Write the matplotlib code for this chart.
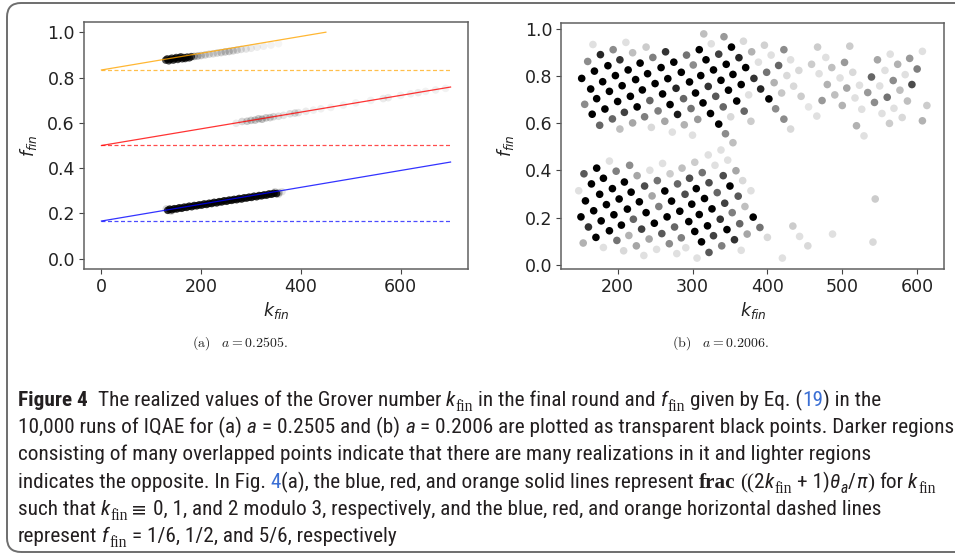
import matplotlib
matplotlib.use("Agg")
import matplotlib.pyplot as plt
from matplotlib import font_manager
from matplotlib.font_manager import FontProperties
from matplotlib.patches import FancyBboxPatch
from matplotlib.transforms import IdentityTransform

# ---- panel (a): reference lines ----
blue_line_k = [0, 700]
blue_line_f = [0.1667, 0.427]
red_line_k = [0, 700]
red_line_f = [0.5, 0.758]
orange_line_k = [0, 450]
orange_line_f = [0.8333, 1.0]
dash_k = [0, 700]
dash_levels = [1 / 6, 1 / 2, 5 / 6]

# ---- panel (a): realisations (k_fin, f_fin, opacity) ----
blue_k = [133, 137, 141, 146, 151, 156, 161, 166, 171, 176, 181, 186, 191, 196, 201,
          206, 211, 216, 221, 226, 231, 236, 241, 246, 251, 256, 261, 266, 271, 276,
          281, 286, 291, 296, 301, 306, 311, 316, 321, 326, 331, 336, 341, 346, 351,
          356, 362, 348, 130, 140, 355]
blue_f = [0.214, 0.219, 0.216, 0.221, 0.220, 0.225, 0.223, 0.228, 0.227, 0.232, 0.230,
          0.235, 0.234, 0.238, 0.237, 0.242, 0.240, 0.245, 0.244, 0.249, 0.247, 0.252,
          0.251, 0.256, 0.254, 0.259, 0.258, 0.262, 0.261, 0.266, 0.264, 0.269, 0.268,
          0.272, 0.271, 0.276, 0.274, 0.279, 0.278, 0.282, 0.281, 0.286, 0.285, 0.289,
          0.288, 0.292, 0.296, 0.296, 0.220, 0.210, 0.285]
blue_alpha = [0.8] * 45 + [0.2, 0.1, 0.15, 0.15, 0.15, 0.15]

orange_k = [129, 132, 135, 138, 141, 144, 147, 150, 153, 156, 159, 162, 165, 168, 172,
            176, 180, 186, 193, 200, 208, 216, 224, 232, 240, 248, 256, 264, 272, 280,
            290, 300, 312, 325, 340, 355]
orange_f = [0.877, 0.882, 0.874, 0.880, 0.885, 0.877, 0.883, 0.888, 0.880, 0.886, 0.891,
            0.883, 0.888, 0.884, 0.890, 0.887, 0.892, 0.893, 0.895, 0.897, 0.900, 0.903,
            0.905, 0.908, 0.910, 0.913, 0.915, 0.918, 0.921, 0.924, 0.926, 0.929, 0.934,
            0.938, 0.943, 0.949]
orange_alpha = [0.7] * 17 + [0.3, 0.25, 0.2, 0.18, 0.15, 0.15, 0.15, 0.18, 0.2, 0.2,
                             0.18, 0.15, 0.12, 0.1, 0.08, 0.07, 0.06, 0.05, 0.04]

red_k = [270, 282, 292, 300, 308, 315, 322, 330, 338, 345, 355, 365, 378, 388, 395, 410,
         425, 440, 460, 485, 510, 540, 565, 575, 600, 620, 635, 650, 670, 690]
red_f = [0.598, 0.606, 0.607, 0.611, 0.612, 0.618, 0.616, 0.622, 0.623, 0.627, 0.629,
         0.633, 0.640, 0.643, 0.645, 0.651, 0.656, 0.662, 0.668, 0.678, 0.688, 0.699,
         0.707, 0.711, 0.721, 0.728, 0.733, 0.739, 0.745, 0.752]
red_alpha = [0.08, 0.15, 0.2, 0.2, 0.22, 0.2, 0.25, 0.2, 0.18, 0.15, 0.12, 0.1, 0.12,
             0.15, 0.1, 0.08, 0.06, 0.06, 0.05, 0.05, 0.05, 0.05, 0.08, 0.08, 0.05, 0.06,
             0.07, 0.05, 0.06, 0.05]

# ---- panel (b): realisations (k_fin, f_fin, opacity) ----
b_k = [167, 211, 194, 238, 264, 292, 177, 220, 203, 247, 160, 187, 230, 275, 169, 214,
       258, 285, 197, 240, 152, 180, 224, 267, 206, 250, 164, 189, 233, 278, 217, 260,
       172, 200, 243, 288, 156, 183, 226, 270, 166, 209, 254, 280, 193, 236, 176, 220,
       263, 203, 245, 289, 273,
       315, 342, 325, 368, 309, 352, 396, 379, 422, 335, 362, 405, 318, 388, 431, 459,
       301, 345, 415, 328, 371, 399, 442, 311, 354, 426, 296, 338, 382, 409, 365, 321,
       304, 348, 391, 419, 331, 375, 445, 359, 402, 314, 298, 341, 411, 369, 455, 324,
       307, 351, 378, 422, 335, 431, 300, 344, 354, 435,
       510, 467, 607, 564, 478, 547, 590, 503, 574, 486, 600, 557, 514, 469, 539, 584,
       497, 568, 593, 480, 550, 523, 506, 577, 534, 490, 517, 560, 473, 543, 587, 500,
       613, 526, 569, 553, 466, 580, 519, 563, 607, 529,
       189, 216, 172, 155, 198, 243, 260, 226, 270, 286, 181, 209, 253, 280, 236, 165,
       148, 193, 263, 176, 218, 246, 290, 157, 202, 229, 272, 185, 255, 168, 213, 283,
       238, 195, 151, 221, 266, 178, 249, 205, 161, 232, 276, 189, 171, 215, 259, 199,
       242, 285, 154, 225, 269, 181, 208, 252, 235, 279, 291,
       338, 321, 347, 303, 330, 358, 313, 341, 296, 367, 322, 350, 305, 378, 333, 361,
       316, 299, 343, 370, 326, 353, 309, 381, 337, 295, 363, 320, 346, 390, 303, 328,
       373, 400, 356, 312, 339, 365, 322, 306, 434, 443, 454, 420, 487, 544, 541]
b_f = [0.935, 0.944, 0.913, 0.924, 0.904, 0.890, 0.892, 0.900, 0.870, 0.880, 0.863,
       0.845, 0.856, 0.860, 0.822, 0.827, 0.837, 0.817, 0.803, 0.811, 0.791, 0.777,
       0.786, 0.790, 0.760, 0.769, 0.746, 0.736, 0.742, 0.749, 0.715, 0.725, 0.705,
       0.693, 0.697, 0.705, 0.681, 0.661, 0.670, 0.680, 0.639, 0.647, 0.653, 0.638,
       0.619, 0.628, 0.592, 0.602, 0.609, 0.576, 0.583, 0.594, 0.563,
       0.980, 0.968, 0.938, 0.949, 0.913, 0.924, 0.932, 0.904, 0.913, 0.894, 0.879,
       0.890, 0.870, 0.860, 0.870, 0.851, 0.848, 0.851, 0.846, 0.827, 0.837, 0.817,
       0.825, 0.803, 0.808, 0.803, 0.776, 0.783, 0.791, 0.773, 0.765, 0.757, 0.729,
       0.741, 0.746, 0.729, 0.715, 0.721, 0.715, 0.695, 0.704, 0.687, 0.663, 0.670,
       0.662, 0.652, 0.670, 0.642, 0.617, 0.628, 0.609, 0.618, 0.597, 0.576, 0.550,
       0.556, 0.518, 0.758,
       0.928, 0.924, 0.906, 0.894, 0.880, 0.870, 0.876, 0.859, 0.851, 0.837, 0.831,
       0.825, 0.817, 0.811, 0.797, 0.807, 0.793, 0.782, 0.765, 0.765, 0.759, 0.762,
       0.750, 0.741, 0.731, 0.721, 0.708, 0.711, 0.697, 0.689, 0.695, 0.676, 0.676,
       0.660, 0.664, 0.642, 0.631, 0.625, 0.590, 0.600, 0.611, 0.547,
       0.440, 0.422, 0.410, 0.386, 0.397, 0.401, 0.430, 0.378, 0.386, 0.410, 0.367,
       0.351, 0.357, 0.343, 0.334, 0.343, 0.314, 0.323, 0.313, 0.299, 0.308, 0.292,
       0.299, 0.271, 0.279, 0.267, 0.270, 0.255, 0.247, 0.229, 0.236, 0.227, 0.221,
       0.212, 0.203, 0.193, 0.203, 0.186, 0.176, 0.168, 0.160, 0.151, 0.160, 0.144,
       0.116, 0.124, 0.132, 0.103, 0.109, 0.114, 0.092, 0.080, 0.089, 0.073, 0.059,
       0.065, 0.039, 0.047, 0.072,
       0.487, 0.466, 0.444, 0.435, 0.422, 0.399, 0.391, 0.378, 0.367, 0.357, 0.348,
       0.334, 0.323, 0.314, 0.306, 0.291, 0.281, 0.257, 0.261, 0.247, 0.237, 0.221,
       0.213, 0.202, 0.193, 0.183, 0.174, 0.165, 0.149, 0.158, 0.141, 0.123, 0.130,
       0.116, 0.106, 0.097, 0.080, 0.061, 0.052, 0.028, 0.164, 0.120, 0.080, 0.028,
       0.130, 0.279, 0.096]
b_alpha = [0.12, 0.12, 0.45, 0.2, 0.8, 0.55, 0.85, 0.25, 0.8, 0.5, 0.45, 1, 1, 1, 1, 1,
           1, 1, 1, 1, 1, 1, 1, 1, 1, 1, 1, 1, 1, 0.85, 1, 1, 1, 1, 0.6, 0.6, 0.45, 1, 1,
           1, 1, 0.75, 0.5, 0.9, 0.6, 0.5, 0.6, 0.35, 0.35, 0.25, 0.15, 0.3, 0.12,
           0.25, 0.4, 0.12, 0.15, 1, 1, 0.18, 0.3, 0.45, 0.75, 0.85, 0.12, 1, 0.12, 0.12,
           0.2, 0.45, 1, 0.6, 1, 1, 0.55, 0.15, 1, 1, 0.15, 1, 1, 0.8, 0.3, 1, 0.8, 1, 1,
           0.85, 0.22, 0.65, 0.12, 0.2, 1, 1, 1, 0.55, 0.6, 0.45, 0.6, 0.1, 1, 0.4, 0.15,
           0.2, 0.45, 1, 0.15, 0.12, 0.45, 0.25, 0.15,
           0.2, 0.2, 0.12, 0.12, 0.12, 0.35, 0.4, 0.4, 0.3, 0.25, 0.5, 0.12, 0.15, 0.12,
           0.6, 0.12, 0.12, 0.45, 0.7, 0.3, 0.12, 0.12, 0.35, 0.25, 0.4, 0.25, 0.12, 0.55,
           0.4, 0.45, 0.25, 0.3, 0.2, 0.12, 0.12, 0.12, 0.12, 0.15, 0.3, 0.2, 0.3, 0.12,
           0.12, 0.45, 1, 0.65, 0.5, 0.12, 0.12, 0.35, 0.2, 0.25, 1, 1, 0.55, 0.6, 0.7, 1,
           0.12, 1, 1, 1, 1, 0.35, 0.7, 1, 1, 1, 1, 1, 0.5, 1, 1, 1, 1, 1, 1, 0.6, 1, 1,
           1, 1, 0.8, 0.75, 0.6, 1, 1, 0.3, 0.65, 0.55, 0.35, 0.5, 0.3, 0.35, 0.45, 0.12,
           0.15, 0.12, 0.12, 0.12, 0.12,
           0.12, 0.12, 0.12, 0.2, 0.12, 0.35, 0.55, 0.7, 0.7, 0.15, 0.7, 1, 1, 0.12, 0.6,
           0.65, 1, 1, 0.75, 0.25, 1, 0.5, 1, 1, 0.8, 1, 0.6, 1, 1, 0.55, 1, 0.75, 0.35,
           0.15, 0.8, 1, 0.5, 0.12, 0.65, 0.12, 0.2, 0.12, 0.15, 0.12, 0.12, 0.2, 0.15]

x_ticks_a = [0, 200, 400, 600]
x_ticks_b = [200, 300, 400, 500, 600]
y_ticks = [0.0, 0.2, 0.4, 0.6, 0.8, 1.0]

sub_a = r"$\mathrm{(a)}\quad a = 0.2505.$"
sub_b = r"$\mathrm{(b)}\quad a = 0.2006.$"

# caption pieces: (text, style); styles pick font/colour/offset below
caption = [
    [("Figure 4", "bold"), ("  The realized values of the Grover number ", "normal"),
     ("k", "it"), ("fin", "sub"), (" in the final round and ", "normal"), ("f", "it"),
     ("fin", "sub"), (" given by Eq. (", "normal"), ("19", "link"), (") in the", "normal")],
    [("10,000 runs of IQAE for (a) ", "normal"), ("a", "it"), (" = 0.2505 and (b) ", "normal"),
     ("a", "it"), (" = 0.2006 are plotted as transparent black points. Darker regions", "normal")],
    [("consisting of many overlapped points indicate that there are many realizations "
      "in it and lighter regions", "normal")],
    [("indicates the opposite. In Fig. ", "normal"), ("4", "link"),
     ("(a), the blue, red, and orange solid lines represent ", "normal"), ("frac", "bfserif"),
     (" ((", "serif"), ("2", "normal"), ("k", "it"), ("fin", "sub"), (" + 1)", "normal"),
     ("θ", "it"), ("a", "subit"), ("/", "normal"), ("π", "it"), (")", "serif"),
     (" for ", "normal"), ("k", "it"), ("fin", "sub")],
    [("such that ", "normal"), ("k", "it"), ("fin", "sub"), ("≡", "sym"),
     (" 0, 1, and 2 modulo 3, respectively, and the blue, red, and orange horizontal "
      "dashed lines", "normal")],
    [("represent ", "normal"), ("f", "it"), ("fin", "sub"),
     (" = 1/6, 1/2, and 5/6, respectively", "normal")],
]

W, H = 955, 555


def find_caption_fonts():
    # a condensed sans face is closest to the journal caption
    entries = font_manager.fontManager.ttflist
    prefs = ["Liberation Sans Narrow", "Roboto Condensed", "Open Sans Condensed",
             "Noto Sans", "Open Sans", "DejaVu Sans", "Roboto", "Liberation Sans"]

    def cond(e):
        return ("condensed" in str(e.stretch) or "Narrow" in e.name
                or "Condensed" in e.name)

    for name in prefs:
        fam = [e for e in entries if e.name == name and cond(e)]

        def pick(style, weights):
            for e in fam:
                if e.style == style and e.weight in weights:
                    return e.fname
            return None

        reg = pick("normal", (400, "normal", "regular"))
        bold = pick("normal", (700, "bold"))
        ital = pick("italic", (400, "normal", "regular")) or pick("oblique", (400, "normal"))
        if reg and bold:
            return reg, bold, ital
    return None, None, None


reg_path, bold_path, ital_path = find_caption_fonts()
fp_reg = FontProperties(fname=reg_path) if reg_path else FontProperties(family="Liberation Sans")
fp_bold = (FontProperties(fname=bold_path) if bold_path
           else FontProperties(family="Liberation Sans", weight="bold"))
fp_it = (FontProperties(fname=ital_path) if ital_path
         else FontProperties(family="Liberation Sans", style="italic"))
fp_serif = FontProperties(family="Liberation Serif")
fp_bfserif = FontProperties(family="Liberation Serif", weight="bold")
fp_sym = FontProperties(family="DejaVu Sans")

# style -> (font, size factor, baseline drop in em, colour, lead gap in em)
styles = {
    "normal": (fp_reg, 1.0, 0.0, "#231f20", 0.0),
    "bold": (fp_bold, 1.0, 0.0, "#231f20", 0.0),
    "link": (fp_reg, 1.0, 0.0, "#3b6fd4", 0.0),
    "it": (fp_it, 1.0, 0.0, "#231f20", 0.0),
    "sub": (fp_serif, 0.74, 0.22, "#231f20", 0.0),
    "subit": (fp_it, 0.74, 0.22, "#231f20", 0.0),
    "serif": (fp_serif, 1.0, 0.0, "#231f20", 0.0),
    "bfserif": (fp_bfserif, 1.0, 0.0, "#231f20", 0.0),
    "sym": (fp_sym, 0.9, 0.0, "#231f20", 0.14),
}

fig = plt.figure(figsize=(W / 100, H / 100), dpi=100)
fig.patch.set_facecolor("white")

box = FancyBboxPatch((7, 3), 965, 549, boxstyle="round,pad=0,rounding_size=14",
                     transform=IdentityTransform(), facecolor="none",
                     edgecolor="#6e6e6e", linewidth=1.4)
fig.add_artist(box)

ax_a = fig.add_axes([84 / W, 1 - 269 / H, 384 / W, 247 / H])
ax_b = fig.add_axes([561.3 / W, 1 - 269.3 / H, 383 / W, 246.6 / H])


def rgba(alphas):
    return [(0, 0, 0, a) for a in alphas]


ms = 30
ax_a.scatter(blue_k, blue_f, s=ms, c=rgba(blue_alpha), linewidths=0, zorder=2)
ax_a.scatter(orange_k, orange_f, s=ms, c=rgba(orange_alpha), linewidths=0, zorder=2)
ax_a.scatter(red_k, red_f, s=ms, c=rgba(red_alpha), linewidths=0, zorder=2)
for lk, lf, col in [(blue_line_k, blue_line_f, "blue"), (red_line_k, red_line_f, "red"),
                    (orange_line_k, orange_line_f, "orange")]:
    ax_a.plot(lk, lf, color=col, lw=0.9, alpha=0.8, zorder=3)
for lev, col in zip(dash_levels, ["blue", "red", "orange"]):
    ax_a.plot(dash_k, [lev, lev], color=col, lw=0.9, alpha=0.7, dashes=[3.2, 2.0], zorder=3)
ax_a.set_xticks(x_ticks_a)
ax_a.set_ylim(-0.045, 1.045)

ax_b.scatter(b_k, b_f, s=ms, c=rgba(b_alpha), linewidths=0)
ax_b.set_xticks(x_ticks_b)

for ax in (ax_a, ax_b):
    ax.set_yticks(y_ticks)
    ax.tick_params(direction="out", length=3.5, width=0.8, color="#444444",
                   labelsize=12.5, labelcolor="#222222", pad=3)
    for sp in ax.spines.values():
        sp.set_color("#606060")
        sp.set_linewidth(1.1)
    ax.set_xlabel(r"$k_{fin}$", fontsize=12.5, color="#222222", labelpad=3,
                  math_fontfamily="dejavusans")
    ax.set_ylabel(r"$f_{fin}$", fontsize=12.5, color="#222222", labelpad=6,
                  math_fontfamily="dejavusans")

fig.text(240 / W, 1 - 343 / H, sub_a, fontsize=10, ha="center", va="center",
         math_fontfamily="cm", color="#222222")
fig.text(720 / W, 1 - 343 / H, sub_b, fontsize=10, ha="center", va="center",
         math_fontfamily="cm", color="#222222")

# ---- caption, drawn piece by piece so fonts/colours can change mid line ----
renderer = fig.canvas.get_renderer()


def text_width(s, fp, fs):
    p = fp.copy()
    p.set_size(fs)
    t = fig.text(0, 0, s, fontproperties=p)
    w = t.get_window_extent(renderer=renderer).width
    t.remove()
    return w


def draw_line(segs, x_px, base_px, fs):
    sw = text_width("n n", fp_reg, fs) - text_width("nn", fp_reg, fs)
    em = fs * 100 / 72
    x = x_px
    arts = []
    for s, style in segs:
        fp, scale, drop, color, lead = styles[style]
        x += (len(s) - len(s.lstrip(" "))) * sw + lead * em
        core = s.strip()
        if core:
            p = fp.copy()
            p.set_size(fs * scale)
            y = base_px + drop * em
            t = fig.text(x / W, 1 - y / H, core, fontproperties=p,
                         color=color, ha="left", va="baseline")
            x += t.get_window_extent(renderer=renderer).width
            if style == "it":
                x += 0.04 * fs
            if style == "sym":
                x += 0.06 * em
            arts.append(t)
        x += (len(s) - len(s.rstrip(" "))) * sw
    return x, arts


cap_left = 18
cap_right = 953
fs0 = 13.5
end, arts = draw_line(caption[1], cap_left, 433, fs0)
for a in arts:
    a.remove()
fs = fs0 * (cap_right - cap_left) / (end - cap_left)

baselines = [406, 433, 460.5, 488, 515, 542]
for segs, b in zip(caption, baselines):
    draw_line(segs, cap_left, b, fs)

fig.savefig("out.png", dpi=100, facecolor="white")
